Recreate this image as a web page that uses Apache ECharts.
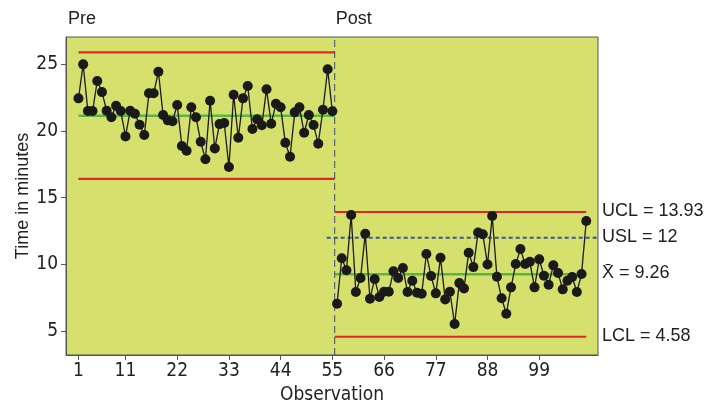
<!DOCTYPE html>
<html>
<head>
<meta charset="utf-8">
<script src="https://cdn.jsdelivr.net/npm/echarts@6/dist/echarts.min.js"></script>
<style>
  html, body { margin: 0; padding: 0; background: #fff; }
  #chart { width: 717px; height: 402px; }
</style>
</head>
<body>
<div id="chart"></div>
<script>
// observation times (minutes)
const preTimes = [
  22.45, 25.0, 21.5, 21.5, 23.75, 22.92, 21.52, 21.03, 21.9, 21.5,
  19.6, 21.52, 21.3, 20.47, 19.7, 22.83, 22.83, 24.45, 21.2, 20.8,
  20.73, 21.95, 18.88, 18.52, 21.78, 21.03, 19.2, 17.88, 22.27, 18.7,
  20.52, 20.6, 17.3, 22.72, 19.5, 22.45, 23.37, 20.15, 20.88, 20.43,
  23.13, 20.55, 22.05, 21.78, 19.12, 18.07, 21.4, 21.78, 19.87, 21.2,
  20.45, 19.05, 21.6, 24.63, 21.48
];
const postTimes = [
  7.05, 10.46, 9.56, 13.7, 7.93, 8.98, 12.3, 7.43, 8.9, 7.56,
  7.95, 7.95, 9.48, 8.98, 9.73, 7.93, 8.78, 7.88, 7.8, 10.78,
  9.13, 7.83, 10.5, 7.38, 7.95, 5.53, 8.6, 8.2, 10.88, 9.8,
  12.4, 12.26, 10.0, 13.63, 9.08, 7.46, 6.3, 8.28, 10.03, 11.15,
  10.03, 10.2, 8.28, 10.38, 9.15, 8.48, 9.93, 9.36, 8.13, 8.78,
  9.06, 7.93, 9.28, 13.25
];
// control limits: UCL, mean, LCL
const preLimits = [25.9, 21.15, 16.42];
const postLimits = [13.93, 9.26, 4.58];
const usl = 12;
const splitAt = 55.5;
const xTicks = [1, 11, 22, 33, 44, 55, 66, 77, 88, 99];
const yTicks = [5, 10, 15, 20, 25];
const rightLabels = ['UCL = 13.93', 'USL = 12', 'X\u0304 = 9.26', 'LCL = 4.58'];

const firstPost = preTimes.length + 1;
const lastObs = preTimes.length + postTimes.length;
const preData = preTimes.map((v, i) => [i + 1, v]);
const postData = postTimes.map((v, i) => [firstPost + i, v]);

const xMin = -1.65, xMax = 111.5;
const yMin = 3.21, yMax = 27.05;
const narrow = "'DejaVu Sans Condensed', 'Liberation Sans', sans-serif";
const plain = "'Liberation Sans', sans-serif";

function hLine(name, x0, x1, y, color, width, type) {
  return {
    name: name,
    type: 'line',
    data: [[x0, y], [x1, y]],
    symbol: 'none',
    silent: true,
    z: 1,
    lineStyle: { color: color, width: width, type: type || 'solid' }
  };
}

const red = '#e3262b';
const green = '#5bb544';
const blue = '#3b55a3';

const chart = echarts.init(document.getElementById('chart'));
chart.setOption({
  animation: false,
  textStyle: { fontFamily: narrow },
  grid: {
    left: 66, right: 119, top: 37, bottom: 47,
    containLabel: false,
    outerBoundsMode: 'none',
    show: true,
    backgroundColor: '#d5e16c',
    borderColor: '#555',
    borderWidth: 1
  },
  xAxis: {
    type: 'value',
    min: xMin,
    max: xMax,
    name: 'Observation',
    nameLocation: 'middle',
    nameGap: 25,
    nameTextStyle: { fontSize: 19, color: '#222', fontFamily: narrow },
    axisLine: { show: true, onZero: false, lineStyle: { color: '#555', width: 1 } },
    axisTick: { show: true, customValues: xTicks, length: 5, lineStyle: { color: '#555' } },
    axisLabel: { customValues: xTicks, fontSize: 19, color: '#222', margin: 7, fontFamily: narrow },
    splitLine: { show: false }
  },
  yAxis: {
    type: 'value',
    min: yMin,
    max: yMax,
    name: 'Time in minutes',
    nameLocation: 'middle',
    nameGap: 34,
    nameMoveOverlap: false,
    nameRotate: 90,
    nameTextStyle: { fontSize: 18, color: '#222', fontFamily: plain },
    axisLine: { show: true, onZero: false, lineStyle: { color: '#555', width: 1 } },
    axisTick: { show: true, customValues: yTicks, length: 5, lineStyle: { color: '#555' } },
    axisLabel: { customValues: yTicks, fontSize: 19, color: '#222', margin: 8, fontFamily: narrow },
    splitLine: { show: false }
  },
  series: [
    hLine('preUCL', 1, splitAt, preLimits[0], red, 2.2),
    hLine('preMean', 1, splitAt, preLimits[1], green, 2.5),
    hLine('preLCL', 1, splitAt, preLimits[2], red, 2.2),
    hLine('postUCL', splitAt, lastObs, postLimits[0], red, 2.2),
    hLine('postMean', splitAt, lastObs, postLimits[1], green, 2.5),
    hLine('postLCL', splitAt, lastObs, postLimits[2], red, 2.2),
    {
      name: 'usl',
      type: 'line',
      data: [[53.8, usl], [xMax, usl]],
      symbol: 'none',
      silent: true,
      z: 1,
      lineStyle: { color: blue, width: 2, type: [4, 3] }
    },
    {
      name: 'split',
      type: 'line',
      data: [[splitAt, yMin], [splitAt, yMax]],
      symbol: 'none',
      silent: true,
      z: 1,
      lineStyle: { color: '#3a4a7a', width: 1, type: [7, 4] }
    },
    {
      name: 'Pre',
      type: 'line',
      data: preData,
      symbol: 'circle',
      symbolSize: 10,
      z: 3,
      itemStyle: { color: '#1a1a1a' },
      lineStyle: { color: '#1a1a1a', width: 1.3 }
    },
    {
      name: 'Post',
      type: 'line',
      data: postData,
      symbol: 'circle',
      symbolSize: 10,
      z: 3,
      itemStyle: { color: '#1a1a1a' },
      lineStyle: { color: '#1a1a1a', width: 1.3 }
    }
  ]
});

// labels placed through the axes' own scales
const ys = [postLimits[0], usl, postLimits[1], postLimits[2]];
const splitX = chart.convertToPixel({ xAxisIndex: 0 }, splitAt);
const graphics = [
  { type: 'text', left: 68, top: 10, style: { text: 'Pre', fontSize: 18, fill: '#222', fontFamily: plain } },
  { type: 'text', left: splitX + 1, top: 10, style: { text: 'Post', fontSize: 18, fill: '#222', fontFamily: plain } }
];
ys.forEach((v, i) => {
  const py = chart.convertToPixel({ yAxisIndex: 0 }, v);
  graphics.push({
    type: 'text',
    left: 602,
    top: py - 10,
    style: { text: rightLabels[i], fontSize: 18, fill: '#222', fontFamily: plain }
  });
});
chart.setOption({ graphic: graphics });
</script>
</body>
</html>
